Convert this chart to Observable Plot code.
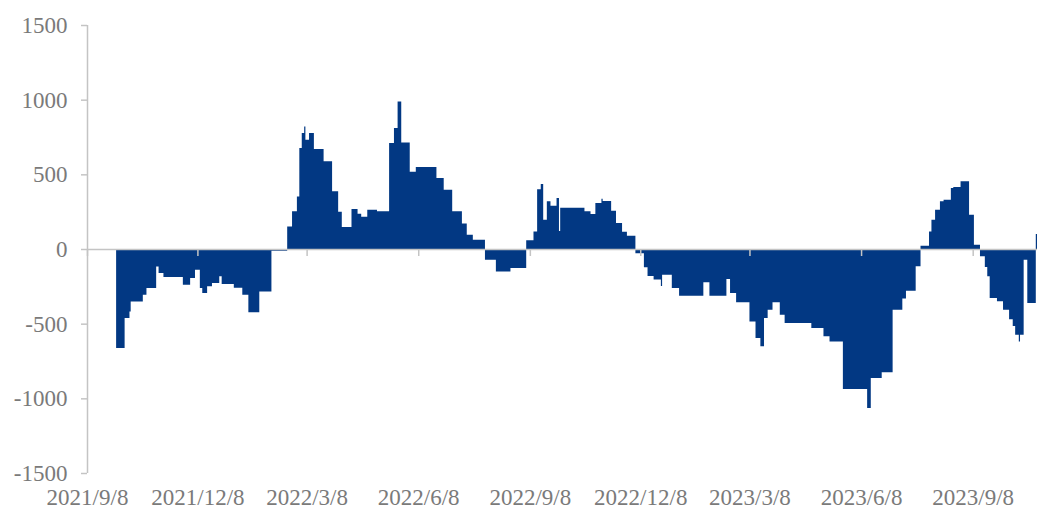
<!DOCTYPE html>
<html>
<head>
<meta charset="utf-8">
<script src="https://cdn.jsdelivr.net/npm/d3@7"></script>
<script src="https://cdn.jsdelivr.net/npm/@observablehq/plot@0.6"></script>
<style>
  html, body { margin: 0; padding: 0; background: #ffffff; }
  #chart svg { display: block; }
</style>
</head>
<body>
<div id="chart"></div>
<script>
// Observation dates (each value holds until the next date)
const dates = [
  "2021-10-02","2021-10-09","2021-10-13","2021-10-14","2021-10-24","2021-10-27",
  "2021-11-04","2021-11-06","2021-11-10","2021-11-26","2021-12-02","2021-12-06",
  "2021-12-10","2021-12-12","2021-12-16","2021-12-20","2021-12-26","2021-12-28",
  "2022-01-07","2022-01-14","2022-01-19","2022-01-28","2022-02-07","2022-02-20",
  "2022-02-24","2022-02-28","2022-03-02","2022-03-04","2022-03-06","2022-03-07",
  "2022-03-10","2022-03-14","2022-03-22","2022-03-29","2022-04-03","2022-04-06",
  "2022-04-14","2022-04-19","2022-04-22","2022-04-27","2022-05-05","2022-05-15",
  "2022-05-19","2022-05-22","2022-05-25","2022-06-01","2022-06-06","2022-06-23",
  "2022-06-29","2022-07-06","2022-07-14","2022-07-18","2022-07-23","2022-08-02",
  "2022-08-11","2022-08-23","2022-09-05","2022-09-11","2022-09-14","2022-09-17",
  "2022-09-19","2022-09-22","2022-09-25","2022-09-30","2022-10-02","2022-10-03",
  "2022-10-23","2022-10-28","2022-11-01","2022-11-06","2022-11-07","2022-11-14",
  "2022-11-18","2022-11-23","2022-11-27","2022-12-04","2022-12-11","2022-12-14",
  "2022-12-19","2022-12-25","2022-12-26","2023-01-03","2023-01-09","2023-01-29",
  "2023-02-03","2023-02-17","2023-02-20","2023-02-25","2023-03-08","2023-03-13",
  "2023-03-17","2023-03-20","2023-03-23","2023-03-27","2023-04-02","2023-04-06",
  "2023-04-28","2023-05-08","2023-05-13","2023-05-24","2023-06-13","2023-06-16",
  "2023-06-25","2023-07-04","2023-07-12","2023-07-15","2023-07-23","2023-07-27",
  "2023-08-03","2023-08-05","2023-08-08","2023-08-12","2023-08-15","2023-08-21",
  "2023-08-23","2023-08-29","2023-09-05","2023-09-09","2023-09-14","2023-09-18",
  "2023-09-20","2023-09-22","2023-09-28","2023-10-03","2023-10-08","2023-10-11",
  "2023-10-13","2023-10-16","2023-10-17","2023-10-20","2023-10-23","2023-10-30",
  "2023-10-31"
];
const values = [
  -663, -462, -418, -351, -306, -261,
  -117, -161, -188, -239, -194, -139,
  -261, -295, -250, -228, -183, -235,
  -260, -306, -424, -284, -12, 151,
  252, 352, 676, 777, 821, 731,
  777, 670, 587, 386, 250, 147,
  268, 236, 216, 263, 252, 710,
  810, 988, 714, 517, 549, 475,
  397, 252, 170, 96, 62, -72,
  -150, -127, 58, 118, 400, 435,
  196, 319, 290, 341, 120, 276,
  253, 235, 308, 337, 322, 256,
  174, 115, 88, -28, -122, -180,
  -205, -248, -172, -261, -313, -223,
  -313, -201, -295, -356, -485, -596,
  -652, -462, -406, -357, -440, -496,
  -529, -585, -619, -938, -1065, -864,
  -826, -406, -332, -279, -116, 22,
  118, 196, 263, 319, 330, 408,
  415, 453, 230, 29, -49, -120,
  -183, -328, -350, -406, -470, -515,
  -574, -619, -574, -72, -362, 100,
  100
];

const xDomain = ["2021-09-08", "2023-10-31"];
const xTickDates = ["2021-09-08","2021-12-08","2022-03-08","2022-06-08","2022-09-08",
                    "2022-12-08","2023-03-08","2023-06-08","2023-09-08"];
const xTickLabels = ["2021/9/8","2021/12/8","2022/3/8","2022/6/8","2022/9/8",
                     "2022/12/8","2023/3/8","2023/6/8","2023/9/8"];
const yTicks = [-1500, -1000, -500, 0, 500, 1000, 1500];

const parse = d3.utcParse("%Y-%m-%d");
const data = dates.map((d, i) => ({date: parse(d), value: values[i]}));
const tickDates = xTickDates.map(parse);
const labelMap = new Map(tickDates.map((d, i) => [+d, xTickLabels[i]]));
const xStart = parse(xDomain[0]);
const yMin = d3.min(yTicks), yMax = d3.max(yTicks);

const navy = "#023883";
const axisGray = "#c4c4c4";
const textGray = "#7a7a7a";

const chart = Plot.plot({
  width: 1037,
  height: 510,
  marginLeft: 87,
  marginRight: 0,
  marginTop: 25,
  marginBottom: 37,
  style: {fontFamily: "'Liberation Serif', 'Times New Roman', serif", fontSize: "23px", background: "#ffffff"},
  x: {type: "utc", domain: xDomain.map(parse), label: null},
  y: {domain: [yMin, yMax], label: null},
  marks: [
    Plot.areaY(data, {x: "date", y: "value", curve: "step-after", fill: navy}),
    Plot.ruleY([0], {stroke: axisGray, strokeWidth: 1.5}),
    Plot.ruleX(tickDates, {x: d => d, y1: 0, y2: 0, insetBottom: -7, stroke: axisGray, strokeWidth: 1.5}),
    Plot.ruleX([xStart], {x: d => d, y1: yMin, y2: yMax, stroke: axisGray, strokeWidth: 1.5}),
    Plot.axisY(yTicks, {
      tickSize: 6, tickPadding: 14, label: null,
      stroke: axisGray, fill: textGray, strokeWidth: 1.5,
      tickFormat: d => String(d)
    }),
    Plot.axisX(tickDates, {
      anchor: "bottom", tickSize: 0, tickPadding: 15, label: null,
      fill: textGray, tickFormat: d => labelMap.get(+d)
    })
  ]
});
document.getElementById("chart").appendChild(chart);
</script>
</body>
</html>
